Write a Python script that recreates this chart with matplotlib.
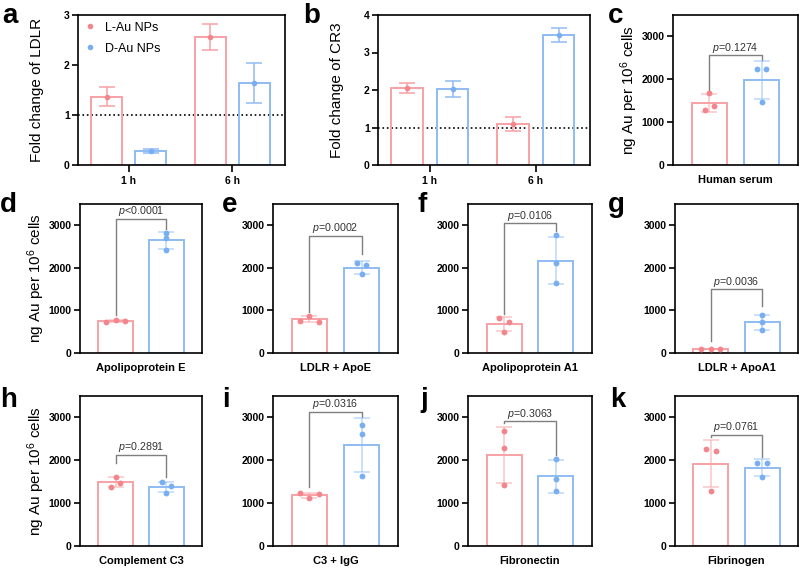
import matplotlib
matplotlib.use('Agg')
import matplotlib.pyplot as plt
import numpy as np

plt.rcParams['font.family'] = ['Liberation Sans', 'DejaVu Sans']
plt.rcParams['mathtext.fontset'] = 'custom'
plt.rcParams['mathtext.rm'] = 'Liberation Sans'
plt.rcParams['mathtext.it'] = 'Liberation Sans:italic'
plt.rcParams['mathtext.bf'] = 'Liberation Sans:bold'

# -------------------------------------------------------
# dados

times = ['1 h', '6 h']
groups = ['L-Au NPs', 'D-Au NPs']

# a - LDLR
ldlr_L_mean = [1.37, 2.57]
ldlr_L_sd = [0.185, 0.26]
ldlr_D_mean = [0.29, 1.64]
ldlr_D_sd = [0.04, 0.40]

# b - CR3
cr3_L_mean = [2.06, 1.10]
cr3_L_sd = [0.13, 0.18]
cr3_D_mean = [2.02, 3.47]
cr3_D_sd = [0.21, 0.19]

# c-k - ng Au per 10^6 cells
proteins = ['Human serum', 'Apolipoprotein E', 'LDLR + ApoE', 'Apolipoprotein A1',
            'LDLR + ApoA1', 'Complement C3', 'C3 + IgG', 'Fibronectin', 'Fibrinogen']
uptake_L = [[1290, 1670, 1380],
            [725, 770, 755],
            [762, 879, 738],
            [817, 723, 487],
            [85, 95, 90],
            [1383, 1617, 1477],
            [1227, 1109, 1211],
            [2695, 2289, 1414],
            [2266, 2219, 1289]]
uptake_D = [[2240, 1481, 2235],
            [2830, 2690, 2430],
            [2120, 2058, 1846],
            [2764, 2105, 1649],
            [895, 722, 534],
            [1492, 1398, 1242],
            [2812, 2617, 1633],
            [2039, 1555, 1273],
            [1940, 1935, 1602]]
p_values = ['$p$=0.1274', '$p$<0.0001', '$p$=0.0002', '$p$=0.0106', '$p$=0.0036',
            '$p$=0.2891', '$p$=0.0316', '$p$=0.3063', '$p$=0.0761']
# colchete: topo, fim da perna esquerda, fim da perna direita
bracket_top = [2556, 3157, 2749, 3047, 1492, 2125, 3125, 2906, 2594]
bracket_left = [1754, 903, 957, 927, 273, 1930, 1367, 2867, 2539]
bracket_right = [2439, 2922, 2317, 2867, 1100, 1617, 3000, 2125, 2070]

# -------------------------------------------------------
# estilo

L_edge = '#F7A1A6'
L_pt = '#F2868C'
D_edge = '#8FBCF3'
D_pt = '#79AEF0'
gray = '#7F7F7F'

W, H = 800, 568
fig = plt.figure(figsize=(8, 5.68), dpi=100)


def add_ax(left, top, right, bottom):
    return fig.add_axes([left / W, 1 - bottom / H, (right - left) / W, (bottom - top) / H])


def style(ax):
    for s in ax.spines.values():
        s.set_linewidth(1.2)
    ax.tick_params(axis='y', length=4, width=1.2, labelsize=7.5, pad=2)
    for lab in ax.get_yticklabels():
        lab.set_fontweight('bold')


# -------------------------------------------------------
# a e b

fold_axes = [add_ax(78, 15, 285, 165), add_ax(378, 15, 590, 165)]
fold_data = [(ldlr_L_mean, ldlr_L_sd, ldlr_D_mean, ldlr_D_sd, 3, 'Fold change of LDLR'),
             (cr3_L_mean, cr3_L_sd, cr3_D_mean, cr3_D_sd, 4, 'Fold change of CR3')]

x = np.arange(len(times))
off = 0.213
bw = 0.3
for ax, (lm, ls, dm, ds, ytop, ylab) in zip(fold_axes, fold_data):
    ax.bar(x - off, lm, bw, facecolor='none', edgecolor=L_edge, linewidth=1.4, zorder=2)
    ax.bar(x + off, dm, bw, facecolor='none', edgecolor=D_edge, linewidth=1.4, zorder=2)
    ax.errorbar(x - off, lm, yerr=ls, fmt='none', ecolor=L_edge, elinewidth=1.1, capsize=6, capthick=1.1, zorder=3)
    ax.errorbar(x + off, dm, yerr=ds, fmt='none', ecolor=D_edge, elinewidth=1.1, capsize=6, capthick=1.1, zorder=3)
    ax.plot(x - off, lm, 'o', color=L_pt, markersize=3, zorder=4, label=groups[0])
    ax.plot(x + off, dm, 'o', color=D_pt, markersize=3, zorder=4, label=groups[1])
    ax.axhline(1, color='black', linestyle=':', linewidth=1.2, zorder=1)
    ax.set_xlim(-0.49, 1.51)
    ax.set_ylim(0, ytop)
    ax.set_yticks(range(ytop + 1))
    ax.set_xticks(x)
    ax.set_xticklabels(times, fontsize=7.5, fontweight='bold')
    ax.tick_params(axis='x', length=5, width=1.2, pad=3)
    ax.set_ylabel(ylab, fontsize=11, labelpad=14)
    style(ax)

fold_axes[0].legend(loc='upper left', bbox_to_anchor=(-0.035, 1.03), frameon=False, fontsize=9,
                    handlelength=1.2, handletextpad=0.6, labelspacing=0.7, markerscale=1.0)

# -------------------------------------------------------
# c-k

boxes = [(673, 15, 798, 165),
         (80, 204, 202, 353), (273, 204, 398, 353), (468, 204, 592, 353), (675, 204, 798, 353),
         (80, 396, 202, 546), (273, 396, 398, 546), (468, 396, 592, 546), (675, 396, 798, 546)]
with_ylabel = [0, 1, 5]


def swarm(ax, x0, vals, thr=5.0, step=9.5):
    # agrupa pontos que se sobrepõem e espalha na horizontal
    vals = np.asarray(vals, dtype=float)
    py = ax.transData.transform(np.column_stack([np.full(len(vals), x0), vals]))[:, 1]
    px_per_x = ax.transData.transform((1, 0))[0] - ax.transData.transform((0, 0))[0]
    order = np.argsort(py)
    clusters = [[order[0]]]
    for i in order[1:]:
        if py[i] - py[clusters[-1][-1]] < thr:
            clusters[-1].append(i)
        else:
            clusters.append([i])
    xs = np.full(len(vals), float(x0))
    for c in clusters:
        c = sorted(c)
        n = len(c)
        for k, i in enumerate(c):
            xs[i] = x0 + (k - (n - 1) / 2) * step / px_per_x
    return xs


for i, box in enumerate(boxes):
    ax = add_ax(*box)
    ax.set_xlim(-1.2, 1.2)
    ax.set_ylim(0, 3500)
    for xc, vals, ec, pc in [(-0.5, uptake_L[i], L_edge, L_pt), (0.5, uptake_D[i], D_edge, D_pt)]:
        m = np.mean(vals)
        sd = np.std(vals, ddof=1)
        ax.bar(xc, m, 0.68, facecolor='none', edgecolor=ec, linewidth=1.4, zorder=2)
        ax.errorbar(xc, m, yerr=sd, fmt='none', ecolor=ec, alpha=0.6, elinewidth=1.1,
                    capsize=6, capthick=1.1, zorder=3)
        ax.plot(swarm(ax, xc, vals), vals, 'o', color=pc, markersize=4.2, markeredgewidth=0, zorder=4)
    ax.plot([-0.5, -0.5, 0.5, 0.5], [bracket_left[i], bracket_top[i], bracket_top[i], bracket_right[i]],
            color=gray, linewidth=1.0, zorder=1)
    ax.text(0, bracket_top[i] + 15, p_values[i], ha='center', va='bottom', fontsize=7.7, color='#333333')
    ax.set_yticks([0, 1000, 2000, 3000])
    ax.set_xticks([0])
    ax.set_xticklabels([proteins[i]], fontsize=8, fontweight='bold')
    ax.tick_params(axis='x', length=0, pad=7)
    if i in with_ylabel:
        ax.set_ylabel('ng Au per 10$^6$ cells', fontsize=11, labelpad=1)
    style(ax)

# -------------------------------------------------------
# letras

letters = ['a', 'b', 'c', 'd', 'e', 'f', 'g', 'h', 'i', 'j', 'k']
letter_pos = [(2, 23), (303, 23), (608, 23),
              (0, 212), (222, 212), (417, 212), (608, 212),
              (0, 407), (222, 407), (420, 407), (610, 407)]
for t, (lx, ly) in zip(letters, letter_pos):
    fig.text(lx / W, 1 - ly / H, t, fontsize=20, fontweight='bold', ha='left', va='baseline')

fig.savefig('out.png', dpi=100)
